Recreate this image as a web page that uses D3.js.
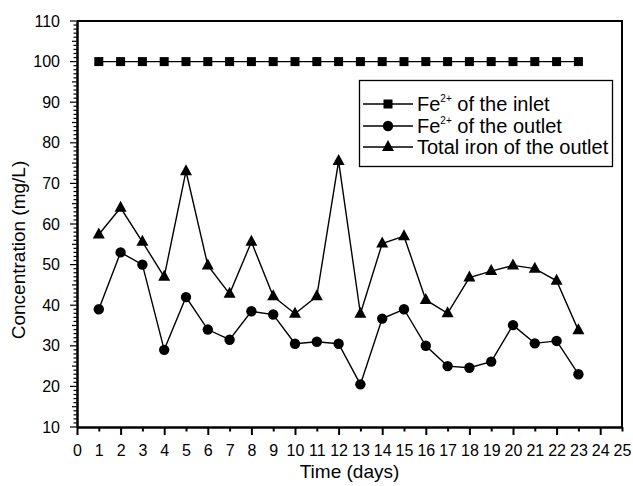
<!DOCTYPE html>
<html>
<head>
<meta charset="utf-8">
<script src="https://cdn.jsdelivr.net/npm/d3@7"></script>
<style>
  body { margin: 0; background: #fff; }
  svg { font-family: "Liberation Sans", Arial, sans-serif; }
</style>
</head>
<body>
<div id="chart"></div>
<script>
// days 1..23
var days = [1,2,3,4,5,6,7,8,9,10,11,12,13,14,15,16,17,18,19,20,21,22,23];
var inletFe = [100,100,100,100,100,100,100,100,100,100,100,100,100,100,100,100,100,100,100,100,100,100,100];
var outletFe = [39,53,50,29,42,34,31.5,38.5,37.7,30.5,31,30.5,20.5,36.7,39,30,25,24.6,26.1,35.1,30.6,31.2,23];
var outletTotal = [57.4,64,55.6,47,73,49.8,42.8,55.6,42.2,37.9,42.2,75.5,37.9,55.2,57,41.3,38,46.8,48.4,49.8,49,46,33.8];
var xTicks = d3.range(0, 26);
var yTicks = [10,20,30,40,50,60,70,80,90,100,110];
var legendNames = [["Fe", "2+", " of the inlet"], ["Fe", "2+", " of the outlet"], ["Total iron of the outlet", "", ""]];

var W = 633, H = 486;
var margin = {top: 21, right: 11, bottom: 59, left: 77};
var width = W - margin.left - margin.right,
    height = H - margin.top - margin.bottom;

var svg = d3.select("#chart").append("svg")
  .attr("width", W)
  .attr("height", H);

var g = svg.append("g")
  .attr("transform", "translate(" + margin.left + "," + margin.top + ")");

var x = d3.scaleLinear().domain([0, 25]).range([0, width]);
var y = d3.scaleLinear().domain([10, 110]).range([height, 0]);

// frame (top + right)
g.append("path")
  .attr("d", "M0,0H" + width + "V" + height)
  .attr("fill", "none").attr("stroke", "#000").attr("stroke-width", 2);

// y minor ticks
g.append("g").selectAll("line")
  .data(d3.range(10, 111, 1))
  .enter().append("line")
  .attr("x1", 0)
  .attr("x2", function(d) { return d % 10 == 0 ? -7 : (d % 5 == 0 ? -5 : -3.5); })
  .attr("y1", function(d) { return y(d); })
  .attr("y2", function(d) { return y(d); })
  .attr("stroke", "#000").attr("stroke-width", 1.2);

// y axis
var yAxis = d3.axisLeft(y).tickValues(yTicks).tickSize(0).tickPadding(17);
var yg = g.append("g").call(yAxis);
yg.select(".domain").attr("stroke-width", 2.5);
yg.selectAll("text").attr("font-size", 16).attr("fill", "#000").attr("font-family", "Liberation Sans, Arial, sans-serif");

// x axis
var xAxis = d3.axisBottom(x).tickValues(xTicks).tickSize(0).tickPadding(18);
var xg = g.append("g").attr("transform", "translate(0," + height + ")").call(xAxis);
xg.select(".domain").attr("stroke-width", 2.5);
xg.selectAll("text").attr("font-size", 16).attr("fill", "#000").attr("font-family", "Liberation Sans, Arial, sans-serif");
xg.selectAll(".tick").append("line")
  .attr("y1", 0)
  .attr("y2", function(d) { return d % 2 == 0 ? 8 : 4.5; })
  .attr("stroke", "#000").attr("stroke-width", 2);

// axis titles
svg.append("text")
  .attr("x", margin.left + width / 2)
  .attr("y", 478)
  .attr("text-anchor", "middle")
  .attr("font-size", 19)
  .text("Time (days)");

svg.append("text")
  .attr("transform", "translate(25,250) rotate(-90)")
  .attr("text-anchor", "middle")
  .attr("font-size", 19)
  .text("Concentration (mg/L)");

// lines
var line = d3.line()
  .x(function(d) { return x(d[0]); })
  .y(function(d) { return y(d[1]); });

var series = [
  {vals: inletFe, shape: "square"},
  {vals: outletFe, shape: "circle"},
  {vals: outletTotal, shape: "triangle"}
];

function drawMarker(sel, shape, cx, cy) {
  if (shape == "square") {
    sel.append("rect").attr("x", cx - 4.5).attr("y", cy - 4.5).attr("width", 9).attr("height", 9).attr("fill", "#000");
  } else if (shape == "circle") {
    sel.append("circle").attr("cx", cx).attr("cy", cy).attr("r", 5.2).attr("fill", "#000");
  } else {
    sel.append("path").attr("d", "M" + cx + "," + (cy - 7) + "L" + (cx + 6) + "," + (cy + 4) + "L" + (cx - 6) + "," + (cy + 4) + "Z").attr("fill", "#000");
  }
}

series.forEach(function(s) {
  var pts = days.map(function(d, i) { return [d, s.vals[i]]; });
  g.append("path")
    .datum(pts)
    .attr("d", line)
    .attr("fill", "none")
    .attr("stroke", "#000")
    .attr("stroke-width", 1.4);
  var mg = g.append("g");
  pts.forEach(function(p) { drawMarker(mg, s.shape, x(p[0]), y(p[1])); });
});

// legend
var lg = svg.append("g");
lg.append("rect")
  .attr("x", 359.5).attr("y", 80.5).attr("width", 253).attr("height", 86)
  .attr("fill", "#fff").attr("stroke", "#000").attr("stroke-width", 1.3);

var rowY = [104, 126, 147];
legendNames.forEach(function(n, i) {
  lg.append("line")
    .attr("x1", 363).attr("x2", 413)
    .attr("y1", rowY[i]).attr("y2", rowY[i])
    .attr("stroke", "#000").attr("stroke-width", 1.4);
  drawMarker(lg, series[i].shape, 388, rowY[i]);
  var t = lg.append("text")
    .attr("x", 417).attr("y", rowY[i] + 7)
    .attr("font-size", 20);
  t.append("tspan").text(n[0]);
  if (n[1]) {
    t.append("tspan").attr("font-size", 10).attr("dy", -9).text(n[1]);
    t.append("tspan").attr("dy", 9).text(n[2]);
  }
});
</script>
</body>
</html>
